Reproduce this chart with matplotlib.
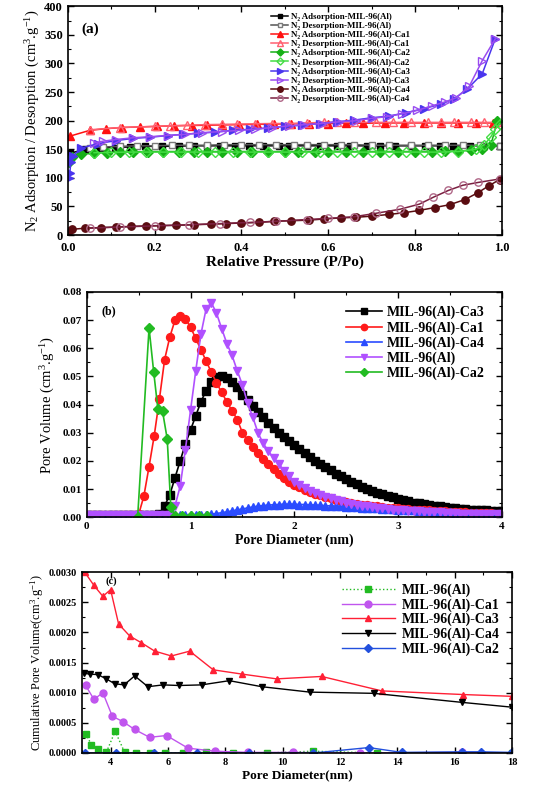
import matplotlib
matplotlib.use("Agg")
import matplotlib.pyplot as plt
from matplotlib.ticker import MultipleLocator

plt.rcParams['font.family'] = ['Liberation Serif', 'DejaVu Serif']
plt.rcParams['mathtext.fontset'] = 'custom'
plt.rcParams['mathtext.rm'] = 'Liberation Serif'
plt.rcParams['mathtext.bf'] = 'Liberation Serif:bold'
plt.rcParams['mathtext.default'] = 'regular'

# ---------- (a) N2 isotherms ----------
al_ads_p = [0.005, 0.04, 0.073, 0.108, 0.142, 0.178, 0.217, 0.255, 0.29, 0.32, 0.35, 0.385, 0.418, 0.45, 0.487,
            0.51, 0.55, 0.58, 0.62, 0.65, 0.69, 0.72, 0.754, 0.79, 0.823, 0.858, 0.888, 0.927, 0.96, 0.996]
al_ads_v = [143, 150, 152, 153, 154, 155, 155, 155.5, 156, 156, 156, 156, 156, 156, 156,
            156, 156, 156, 156, 156, 156, 156, 156, 156, 156, 156, 156, 156, 156, 156]
al_des_p = [0.996, 0.95, 0.91, 0.87, 0.83, 0.79, 0.74, 0.70, 0.66, 0.63, 0.59, 0.55, 0.52, 0.48, 0.44,
            0.40, 0.36, 0.32, 0.28, 0.24, 0.20, 0.16, 0.12, 0.08, 0.05]
al_des_v = [156, 157, 157, 157, 157, 157, 157, 157, 158, 158, 158, 158, 158, 158, 158,
            158, 158, 157, 157, 157, 156, 156, 155, 154, 153]

ca1_ads_p = [0.005, 0.05, 0.088, 0.125, 0.165, 0.205, 0.245, 0.285, 0.32, 0.355, 0.395, 0.435, 0.475,
             0.515, 0.555, 0.6, 0.64, 0.68, 0.73, 0.775, 0.82, 0.86, 0.9, 0.94, 0.98]
ca1_ads_v = [173, 183, 186, 188, 189, 190, 191, 191.5, 192, 192.5, 193, 193.5, 194,
             194.5, 195, 195, 195.5, 195.5, 196, 196, 196, 196, 196, 196, 196]
ca1_des_p = [0.99, 0.96, 0.93, 0.89, 0.86, 0.83, 0.79, 0.75, 0.71, 0.66, 0.62, 0.59, 0.55, 0.51,
             0.47, 0.43, 0.39, 0.355, 0.315, 0.275, 0.235, 0.2, 0.12, 0.05]
ca1_des_v = [197, 197, 197, 197, 197, 197, 197, 197, 197, 197, 197, 197, 196, 195,
             195, 194.5, 194, 193.5, 193, 192, 191, 190, 188, 184]

ca2_ads_p = [0.003, 0.01, 0.03, 0.06, 0.09, 0.12, 0.15, 0.185, 0.22, 0.255, 0.29, 0.32, 0.355, 0.39, 0.425,
             0.46, 0.5, 0.53, 0.57, 0.6, 0.64, 0.68, 0.72, 0.76, 0.8, 0.84, 0.87, 0.9, 0.93, 0.955, 0.975, 0.99]
ca2_ads_v = [128, 137, 141, 143, 144, 145, 145.5, 146, 146, 146, 146, 146, 146, 146, 146,
             146, 146, 146, 146, 146, 146, 146, 146, 146, 146, 146, 146.5, 147, 148, 151, 158, 200]
ca2_des_p = [0.995, 0.985, 0.975, 0.96, 0.94, 0.9, 0.86, 0.82, 0.78, 0.74, 0.7, 0.66, 0.62, 0.58,
             0.54, 0.5, 0.46, 0.42, 0.38, 0.34, 0.3, 0.26, 0.22, 0.18, 0.14, 0.1, 0.06]
ca2_des_v = [195, 185, 172, 158, 150, 146, 145, 145, 145, 145, 145, 145, 145, 145,
             145, 145, 145, 145, 145, 145, 145, 145, 145, 145, 145, 144.5, 144]

ca3_ads_p = [0.002, 0.004, 0.007, 0.012, 0.03, 0.07, 0.11, 0.15, 0.19, 0.23, 0.265, 0.3, 0.34, 0.38, 0.42,
             0.46, 0.5, 0.54, 0.58, 0.62, 0.66, 0.7, 0.74, 0.78, 0.82, 0.86, 0.89, 0.92, 0.955, 0.985]
ca3_ads_v = [100, 108, 128, 138, 152, 160, 165, 169, 171, 174, 176, 178, 180, 183, 185,
             187, 190, 192, 195, 198, 201, 205, 208, 214, 221, 229, 238, 255, 282, 343]
ca3_des_p = [0.985, 0.955, 0.925, 0.895, 0.87, 0.84, 0.805, 0.77, 0.735, 0.7, 0.665, 0.625, 0.585, 0.545,
             0.51, 0.47, 0.43, 0.395, 0.355, 0.31, 0.27, 0.23, 0.19, 0.15, 0.11, 0.08, 0.06]
ca3_des_v = [343, 305, 260, 240, 233, 226, 218, 212, 207, 204, 200, 198, 195, 193,
             191, 188, 185, 183, 181, 179, 176, 174, 172, 170, 167, 164, 161]

ca4_ads_p = [0.003, 0.01, 0.04, 0.075, 0.11, 0.145, 0.18, 0.215, 0.25, 0.29, 0.33, 0.365, 0.4, 0.44, 0.475,
             0.515, 0.555, 0.59, 0.63, 0.665, 0.7, 0.74, 0.775, 0.81, 0.845, 0.88, 0.915, 0.945, 0.97, 0.995]
ca4_ads_v = [7, 10, 12, 13, 14, 15, 16, 16.5, 17, 18, 19, 20, 21, 22, 24,
             25, 26, 28, 30, 31, 33, 36, 39, 43, 48, 53, 62, 74, 86, 97]
ca4_des_p = [0.995, 0.946, 0.91, 0.877, 0.842, 0.81, 0.765, 0.71, 0.66, 0.6, 0.55, 0.48, 0.42, 0.35,
             0.28, 0.2, 0.12, 0.05]
ca4_des_v = [98, 92, 87, 78, 66, 54, 45, 38, 32, 29, 27, 24, 22, 20, 18, 16, 14, 12]

# ---------- (b) pore size distribution ----------
d_nm = [i * 0.05 for i in range(81)]
psd_ca3 = [0.0007] * 14 + [
    0.0012, 0.004, 0.008, 0.014, 0.020, 0.026, 0.031, 0.036, 0.041, 0.045,
    0.048, 0.0497, 0.0500, 0.0495, 0.048, 0.0462, 0.0435, 0.0415, 0.0395, 0.0375,
    0.0355, 0.0335, 0.0318, 0.0300, 0.0284, 0.0269, 0.0255, 0.0241, 0.0227, 0.0214,
    0.0201, 0.0189, 0.0177, 0.0166, 0.0155, 0.0145, 0.0135, 0.0126, 0.0117, 0.0109,
    0.0101, 0.0094, 0.0087, 0.0081, 0.0075, 0.0070, 0.0065, 0.0060, 0.0056, 0.0052,
    0.0049, 0.0046, 0.0043, 0.0040, 0.0038, 0.0036, 0.0034, 0.0032, 0.0030, 0.0029,
    0.0027, 0.0026, 0.0025, 0.0024, 0.0023, 0.0022, 0.0021]
psd_ca1 = [0.0007] * 10 + [
    0.0010, 0.0075, 0.018, 0.029, 0.042, 0.056, 0.064, 0.0700, 0.0716, 0.0705,
    0.0675, 0.0635, 0.0595, 0.0555, 0.0515, 0.0478, 0.0443, 0.041, 0.0378, 0.0347,
    0.030, 0.0275, 0.025, 0.0228, 0.0207, 0.0188, 0.017, 0.0154, 0.0139, 0.0125,
    0.0114, 0.0106, 0.0098, 0.0091, 0.0084, 0.0078, 0.0072, 0.0067, 0.0062, 0.0058,
    0.0054, 0.0051, 0.0048, 0.0045, 0.0042, 0.0040, 0.0038, 0.0036, 0.0034, 0.0032,
    0.0031, 0.0029, 0.0028, 0.0027, 0.0026, 0.0025, 0.0024, 0.0023, 0.0022, 0.0021,
    0.0020, 0.0019, 0.0018, 0.0017, 0.0016, 0.0016, 0.0015, 0.0014, 0.0014, 0.0013, 0.0013]
psd_ca4 = [0.0007] * 22 + [
    0.0008, 0.0009, 0.0011, 0.0013, 0.0016, 0.0019, 0.0022, 0.0026, 0.0029, 0.0033,
    0.0036, 0.0039, 0.0041, 0.0043, 0.0044, 0.0045, 0.0046, 0.0046, 0.0046, 0.0045,
    0.0045, 0.0044, 0.0043, 0.0042, 0.0041, 0.0040, 0.0039, 0.0038, 0.0037, 0.0036,
    0.0035, 0.0034, 0.0033, 0.0032, 0.0031, 0.0030, 0.0029, 0.0028, 0.0027, 0.0026,
    0.0025, 0.0024, 0.0023, 0.0022, 0.0021, 0.0020, 0.0019, 0.0018, 0.0017, 0.0016,
    0.0015, 0.0015, 0.0014, 0.0014, 0.0013, 0.0013, 0.0013, 0.0013, 0.0013]
psd_al = [0.0007] * 16 + [
    0.0007, 0.004, 0.011, 0.024, 0.038, 0.052, 0.065, 0.074, 0.0762, 0.0725,
    0.067, 0.0617, 0.0575, 0.052, 0.047, 0.0405, 0.0355, 0.030, 0.0262, 0.0235,
    0.021, 0.019, 0.0165, 0.0145, 0.0125, 0.0113, 0.0103, 0.0094, 0.0086, 0.0079,
    0.0073, 0.0067, 0.0062, 0.0057, 0.0052, 0.0048, 0.0044, 0.0041, 0.0038, 0.0035,
    0.0033, 0.0031, 0.0029, 0.0027, 0.0026, 0.0024, 0.0023, 0.0022, 0.0021, 0.0020,
    0.0019, 0.0018, 0.0017, 0.0016, 0.0015, 0.0014, 0.0013, 0.0012, 0.0012, 0.0011,
    0.0011, 0.0010, 0.0010, 0.0010, 0.0010]
ca2_d = [0.49, 0.60, 0.645, 0.685, 0.73, 0.775, 0.81, 0.85, 0.92, 1.0, 1.08, 1.16]
psd_ca2 = [0.0, 0.0672, 0.0515, 0.0385, 0.0376, 0.0278, 0.0035, 0.0005, 0.0005, 0.0005, 0.0005, 0.0005]

# ---------- (c) cumulative pore volume ----------
c_al_d = [3.13, 3.33, 3.56, 3.85, 4.16, 4.49, 4.9, 5.36, 5.89, 6.53, 7.32, 8.28, 9.44, 11.05, 13.28, 18.0]
c_al_v = [0.00032, 0.00014, 0.00006, 0.00001, 0.00036, 0.00001, 0.0, 0.0, 0.0, 0.0, 0.00001, 0.0, 0.0,
          0.00003, 0.0, 0.0]
c_ca1_d = [3.13, 3.42, 3.73, 4.06, 4.43, 4.84, 5.36, 5.95, 6.7, 7.63, 8.8, 10.37, 12.7, 16.25, 18.0]
c_ca1_v = [0.00112, 0.00089, 0.0010, 0.00061, 0.00052, 0.00039, 0.00026, 0.00029, 0.00008, 0.00003,
           0.00001, 0.00001, 0.0, 0.00001, 0.0]
c_ca3_d = [3.1, 3.42, 3.73, 4.0, 4.28, 4.67, 5.07, 5.54, 6.12, 6.76, 7.58, 8.57, 9.79, 11.36, 13.46, 16.29, 18.0]
c_ca3_v = [0.0030, 0.00278, 0.0026, 0.00271, 0.00214, 0.00194, 0.00183, 0.00169, 0.00161, 0.00169,
           0.00138, 0.00131, 0.00123, 0.00127, 0.00103, 0.00097, 0.00094]
c_ca4_d = [3.09, 3.27, 3.56, 3.85, 4.14, 4.47, 4.84, 5.3, 5.83, 6.39, 7.17, 8.14, 9.27, 10.95, 13.17, 16.25, 18.0]
c_ca4_v = [0.00132, 0.00131, 0.0013, 0.00123, 0.00115, 0.00113, 0.00128, 0.0011, 0.00113, 0.00112,
           0.00113, 0.0012, 0.0011, 0.00101, 0.00099, 0.00084, 0.00076]
c_ca2_d = [3.1, 4.2, 5.5, 7.0, 8.83, 11.07, 13.0, 14.15, 16.25, 16.9, 18.0]
c_ca2_v = [0.0, 0.0, 0.0, 0.0, 0.0, 0.0, 0.00009, 0.00001, 0.00002, 0.00002, 0.00001]


def style_axes(ax, fs):
    ax.tick_params(which='both', direction='in', top=True, right=True, labelsize=fs)
    ax.tick_params(which='major', length=4, width=1)
    ax.tick_params(which='minor', length=2, width=0.8)
    for lbl in ax.get_xticklabels() + ax.get_yticklabels():
        lbl.set_fontweight('bold')
    for s in ax.spines.values():
        s.set_linewidth(1.2)


fig = plt.figure(figsize=(5.46, 7.86), dpi=100)

# panel (a)
ax1 = fig.add_axes([0.1245, 0.701, 0.7945, 0.291])
ms = 4.8
ax1.plot(al_ads_p, al_ads_v, '-s', color='black', ms=ms, lw=1.1, label='N₂ Adsorption-MIL-96(Al)')
ax1.plot(al_des_p, al_des_v, '-s', color='#555555', mfc='white', mec='#7a7a7a', ms=ms, lw=1.1,
         label='N₂ Desorption-MIL-96(Al)')
ax1.plot(ca1_ads_p, ca1_ads_v, '-^', color='#ff1010', ms=ms + 0.5, lw=1.1, label='N₂ Adsorption-MIL-96(Al)-Ca1')
ax1.plot(ca1_des_p, ca1_des_v, '-^', color='#ff6070', mfc='none', ms=ms + 0.5, lw=1.1,
         label='N₂ Desorption-MIL-96(Al)-Ca1')
ax1.plot(ca2_ads_p, ca2_ads_v, '-D', color='#16b016', ms=ms, lw=1.1, label='N₂ Adsorption-MIL-96(Al)-Ca2')
ax1.plot(ca2_des_p, ca2_des_v, '-D', color='#44dd44', mfc='none', ms=ms, lw=1.1,
         label='N₂ Desorption-MIL-96(Al)-Ca2')
ax1.plot(ca3_ads_p, ca3_ads_v, '->', color='#4a35ee', ms=ms + 0.5, lw=1.1, label='N₂ Adsorption-MIL-96(Al)-Ca3')
ax1.plot(ca3_des_p, ca3_des_v, '->', color='#9a4cf0', mfc='none', ms=ms + 0.5, lw=1.1,
         label='N₂ Desorption-MIL-96(Al)-Ca3')
ax1.plot(ca4_ads_p, ca4_ads_v, '-o', color='#5a0c10', ms=ms + 0.5, lw=1.1, label='N₂ Adsorption-MIL-96(Al)-Ca4')
ax1.plot(ca4_des_p, ca4_des_v, '-o', color='#7a2040', mfc='none', mec='#b06888', ms=ms + 0.5, lw=1.1,
         label='N₂ Desorption-MIL-96(Al)-Ca4')
ax1.set_xlim(0, 1)
ax1.set_ylim(0, 400)
ax1.xaxis.set_major_locator(MultipleLocator(0.2))
ax1.xaxis.set_minor_locator(MultipleLocator(0.1))
ax1.yaxis.set_major_locator(MultipleLocator(50))
ax1.yaxis.set_minor_locator(MultipleLocator(25))
style_axes(ax1, 9)
ax1.tick_params(axis='x', pad=5)
ax1.set_xlabel('Relative Pressure (P/Po)', fontsize=11, fontweight='bold', labelpad=1)
ax1.set_ylabel('N$_2$ Adsorption / Desorption (cm$^3$.g$^{-1}$)', fontsize=10.5, labelpad=2)
ax1.text(0.03, 0.93, '(a)', transform=ax1.transAxes, fontsize=11, fontweight='bold', va='top')
ax1.legend(loc='upper left', bbox_to_anchor=(0.455, 0.995), frameon=False,
           prop={'size': 6.4, 'weight': 'bold'}, labelspacing=0.1, handlelength=2.0,
           handletextpad=0.3, borderpad=0.1, markerscale=0.75)

# panel (b)
ax2 = fig.add_axes([0.159, 0.342, 0.76, 0.2865])
mb = 5.2
ax2.plot(d_nm, psd_ca3, '-s', color='black', ms=mb, lw=1.2, label='MIL-96(Al)-Ca3')
ax2.plot(d_nm, psd_ca1, '-o', color='#ff1a1a', ms=mb + 0.5, lw=1.2, label='MIL-96(Al)-Ca1')
ax2.plot(d_nm, psd_ca4, '-^', color='#2a4cff', ms=mb, lw=1.2, label='MIL-96(Al)-Ca4')
ax2.plot(d_nm, psd_al, '-v', color='#b050ff', ms=mb + 0.5, lw=1.2, label='MIL-96(Al)')
ax2.plot(ca2_d, psd_ca2, '-D', color='#22bb22', ms=mb - 0.5, lw=1.2, label='MIL-96(Al)-Ca2')
ax2.set_xlim(0, 4)
ax2.set_ylim(0, 0.08)
ax2.xaxis.set_major_locator(MultipleLocator(1))
ax2.xaxis.set_minor_locator(MultipleLocator(0.5))
ax2.yaxis.set_major_locator(MultipleLocator(0.01))
ax2.yaxis.set_minor_locator(MultipleLocator(0.005))
ax2.yaxis.set_major_formatter(matplotlib.ticker.FormatStrFormatter('%.2f'))
style_axes(ax2, 8)
ax2.set_xlabel('Pore Diameter (nm)', fontsize=10, fontweight='bold', labelpad=2)
ax2.set_ylabel('Pore Volume (cm$^3$.g$^{-1}$)', fontsize=10.5, labelpad=4)
ax2.text(0.035, 0.94, '(b)', transform=ax2.transAxes, fontsize=8.5, fontweight='bold', va='top')
ax2.legend(loc='upper right', bbox_to_anchor=(0.98, 0.975), frameon=False,
           prop={'size': 10, 'weight': 'bold'}, labelspacing=0.12, handlelength=2.6,
           handletextpad=0.4, borderpad=0.1, markerscale=0.8)

# panel (c)
ax3 = fig.add_axes([0.150, 0.042, 0.788, 0.230])
mc = 4.5
ax3.plot(c_al_d, c_al_v, ':s', color='#22bb22', ms=mc, lw=1.0, label='MIL-96(Al)')
ax3.plot(c_ca1_d, c_ca1_v, '-o', color='#c055ee', ms=mc + 0.5, lw=1.0, label='MIL-96(Al)-Ca1')
ax3.plot(c_ca3_d, c_ca3_v, '-^', color='#ff2035', ms=mc + 0.5, lw=1.0, label='MIL-96(Al)-Ca3')
ax3.plot(c_ca4_d, c_ca4_v, '-v', color='black', ms=mc + 0.5, lw=1.0, label='MIL-96(Al)-Ca4')
ax3.plot(c_ca2_d, c_ca2_v, '-D', color='#2250dd', ms=mc, lw=1.0, label='MIL-96(Al)-Ca2')
ax3.set_xlim(3, 18)
ax3.set_ylim(0, 0.003)
ax3.xaxis.set_major_locator(MultipleLocator(2))
ax3.xaxis.set_minor_locator(MultipleLocator(1))
ax3.yaxis.set_major_locator(MultipleLocator(0.0005))
ax3.yaxis.set_minor_locator(MultipleLocator(0.00025))
ax3.yaxis.set_major_formatter(matplotlib.ticker.FormatStrFormatter('%.4f'))
style_axes(ax3, 7.5)
ax3.set_xlabel('Pore Diameter(nm)', fontsize=9.5, fontweight='bold', labelpad=2)
ax3.set_ylabel('Cumulative Pore Volume(cm$^3$.g$^{-1}$)', fontsize=9, labelpad=2)
ax3.text(0.055, 0.975, '(c)', transform=ax3.transAxes, fontsize=7.5, fontweight='bold', va='top')
ax3.legend(loc='upper right', bbox_to_anchor=(0.99, 0.985), frameon=False,
           prop={'size': 10, 'weight': 'bold'}, labelspacing=0.1, handlelength=3.8,
           handletextpad=0.5, borderpad=0.1)

fig.savefig('out.png', dpi=100)
